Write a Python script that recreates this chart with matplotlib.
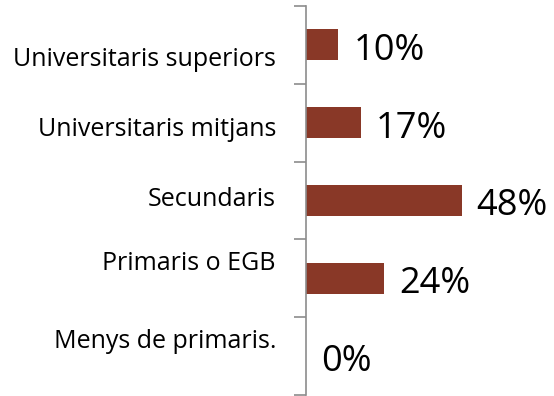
import numpy as np
import matplotlib.pyplot as plt

# Nivell d'estudis (de dalt a baix) i percentatge
categories = ["Universitaris superiors", "Universitaris mitjans", "Secundaris",
              "Primaris o EGB", "Menys de primaris."]
values = [10, 17, 48, 24, 0]
labels = ["10%", "17%", "48%", "24%", "0%"]

# desplaçament vertical (px) de cada rètol de categoria respecte a la seva barra
label_shift = [21, 13, 6, -8, -8]

plt.rcParams['font.family'] = ['Open Sans', 'DejaVu Sans']

fig = plt.figure(figsize=(5.54, 3.96), dpi=100)
ax = fig.add_axes([306 / 554, 1 / 396, 248 / 554, 389 / 396])

y = np.arange(len(categories))[::-1]
ax.barh(y, values, height=0.4, color="#893827")

# percentatges a la dreta de cada barra
for yi, v, lab in zip(y, values, labels):
    ax.annotate(lab, xy=(v, yi), xytext=(15, -15), textcoords="offset pixels",
                va="baseline", ha="left", fontsize=26, color="black")

# noms de les categories a l'esquerra de l'eix
for yi, cat, dy in zip(y, categories, label_shift):
    ax.annotate(cat, xy=(0, yi), xycoords=("axes fraction", "data"),
                xytext=(-30, -dy), textcoords="offset pixels",
                va="baseline", ha="right", fontsize=18, color="black")

ax.set_xlim(0, 76.5)
ax.set_ylim(-0.5, len(categories) - 0.5)

ax.set_yticks([])
ax.set_yticks(np.arange(-0.5, len(categories)), minor=True)
ax.tick_params(axis="y", which="minor", length=9, width=1.2, color="#8c8c8c")

ax.set_xticks([])
for side in ["top", "right", "bottom"]:
    ax.spines[side].set_visible(False)
ax.spines["left"].set_color("#8c8c8c")
ax.spines["left"].set_linewidth(1.2)

fig.savefig("out.png", dpi=100)
